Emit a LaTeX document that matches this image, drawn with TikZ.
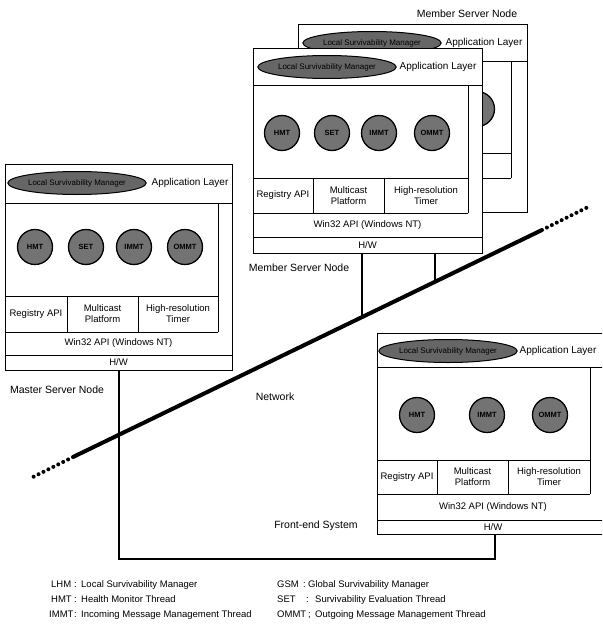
\documentclass[tikz,border=0pt]{standalone}
\usepackage{fontspec}
\setmainfont{Liberation Sans}
\usetikzlibrary{shapes.geometric}
\begin{document}
\begin{tikzpicture}[x=1pt,y=-1pt,
  box/.style={draw=black,line width=1pt},
  lbl/.style={font=\fontsize{10.5}{12}\selectfont, inner sep=0pt},
  app/.style={font=\fontsize{10}{12}\selectfont, inner sep=0pt},
  leg/.style={font=\fontsize{9.5}{11}\selectfont, inner sep=0pt, anchor=base west},
  cell/.style={font=\fontsize{9.5}{11}\selectfont, align=center, inner sep=0pt},
  thr/.style={circle, draw=black, line width=1.3pt, fill=black!55, minimum size=35pt, inner sep=0pt, font=\fontsize{7.5}{8}\selectfont\bfseries},
  mgr/.style={ellipse, draw=black, line width=1pt, fill=black!60, minimum width=138pt, minimum height=23pt, inner sep=0pt, font=\fontsize{8}{9}\selectfont},
  bus/.style={line width=2.8pt},
  net/.style={line width=4pt},
  netdot/.style={line width=4pt, dash pattern=on 0pt off 5.5pt, line cap=round}]
\useasboundingbox (0,0) rectangle (602,634);
\clip (0,0) rectangle (602,634);

% ---------- back member server node ----------
\draw[box, fill=white] (298,25) rectangle (527,212);
\draw[box] (298,62) -- (527,62);
\draw[box] (511,62) -- (511,178);
\draw[box] (298,153) -- (511,153);
\draw[box] (298,178) -- (511,178);
\node[mgr] (bmgr) at (372,43) {Local Survivability Manager};
\node[app] (bapp) at (484,43) {Application Layer};
\node[thr] (bt1) at (327,109) {};
\node[thr] (bt2) at (377,109) {};
\node[thr] (bt3) at (423,109) {};
\node[thr] (bt4) at (477,109) {};
\node[lbl] (bname) at (467,14) {Member Server Node};

% ---------- front member server node ----------
\draw[box, fill=white] (253,49) rectangle (482,253);
\draw[box] (253,85) -- (482,85);
\draw[box] (468,85) -- (468,213);
\draw[box] (253,178) -- (468,178);
\draw[box] (253,213) -- (468,213);
\draw[box] (253,237) -- (482,237);
\draw[box] (313,178) -- (313,213);
\draw[box] (384,178) -- (384,213);
\node[mgr] (mmgr) at (327,67) {Local Survivability Manager};
\node[app] (mapp) at (438,67) {Application Layer};
\node[thr] (mt1) at (282,133) {HMT};
\node[thr] (mt2) at (332,133) {SET};
\node[thr] (mt3) at (379,133) {IMMT};
\node[thr] (mt4) at (432,133) {OMMT};
\node[cell] (mreg) at (283,195.5) {Registry API};
\node[cell] (mmc) at (348.5,195.5) {Multicast\\Platform};
\node[cell] (mtim) at (426,195.5) {High-resolution\\Timer};
\node[cell] (mw32) at (367.5,225) {Win32 API (Windows NT)};
\node[cell] (mhw) at (367.5,245) {H/W};
\node[lbl] (mname) at (299,268) {Member Server Node};

% ---------- master server node ----------
\draw[box, fill=white] (5,164) rectangle (232,370);
\draw[box] (5,203) -- (232,203);
\draw[box] (218,203) -- (218,332);
\draw[box] (5,296) -- (218,296);
\draw[box] (5,332) -- (218,332);
\draw[box] (5,355) -- (232,355);
\draw[box] (67,296) -- (67,332);
\draw[box] (138,296) -- (138,332);
\node[mgr] (smgr) at (77,183) {Local Survivability Manager};
\node[app] (sapp) at (190,183) {Application Layer};
\node[thr] (st1) at (35,247) {HMT};
\node[thr] (st2) at (86,247) {SET};
\node[thr] (st3) at (134,247) {IMMT};
\node[thr] (st4) at (185,247) {OMMT};
\node[cell] (sreg) at (36,314) {Registry API};
\node[cell] (smc) at (102.5,314) {Multicast\\Platform};
\node[cell] (stim) at (178,314) {High-resolution\\Timer};
\node[cell] (sw32) at (118.5,343.5) {Win32 API (Windows NT)};
\node[cell] (shw) at (118.5,362.5) {H/W};
\node[lbl] (sname) at (57,390) {Master Server Node};

% ---------- front-end system ----------
\draw[box, fill=white] (377,333) rectangle (610,534);
\draw[box] (377,367) -- (610,367);
\draw[box] (590,367) -- (590,494);
\draw[box] (377,460) -- (590,460);
\draw[box] (377,494) -- (590,494);
\draw[box] (377,520) -- (610,520);
\draw[box] (437,460) -- (437,494);
\draw[box] (508,460) -- (508,494);
\node[mgr] (fmgr) at (448,351) {Local Survivability Manager};
\node[app] (fapp) at (558,351) {Application Layer};
\node[thr] (ft1) at (417,415) {HMT};
\node[thr] (ft2) at (487,415) {IMMT};
\node[thr] (ft3) at (550,415) {OMMT};
\node[cell] (freg) at (407,477) {Registry API};
\node[cell] (fmc) at (472.5,477) {Multicast\\Platform};
\node[cell] (ftim) at (549,477) {High-resolution\\Timer};
\node[cell] (fw32) at (493,507) {Win32 API (Windows NT)};
\node[cell] (fhw) at (493,527) {H/W};
\node[lbl] (fname) at (316,526) {Front-end System};

% ---------- network ----------
\coordinate (dotA) at (33,477);
\coordinate (netA) at (73,457);
\coordinate (netB) at (542,230);
\coordinate (dotB) at (588,207);
\draw[net] (netA) -- (netB);
\draw[netdot] (netA) -- (dotA);
\draw[netdot] (netB) -- (dotB);
\node[lbl] (netlbl) at (275,397) {Network};

% ---------- connectors ----------
\coordinate (memHWb) at (362,253);
\coordinate (memNet) at (362,318);
\coordinate (bakHWb) at (435,253);
\coordinate (bakNet) at (435,283);
\draw[bus] (memHWb) -- (memNet);
\draw[bus] (bakHWb) -- (bakNet);
\coordinate (masHWb) at (119,370);
\coordinate (busL) at (119,559);
\coordinate (busR) at (495,559);
\coordinate (feHWb) at (495,534);
\draw[bus] (masHWb) -- (busL) -- (busR) -- (feHWb);

% ---------- legend ----------
\node[leg] (l1a) at (51,587) {LHM};
\node[leg] (l1c) at (74,587) {:};
\node[leg] (l1t) at (81,587) {Local Survivability Manager};
\node[leg] (l2a) at (51,602) {HMT};
\node[leg] (l2c) at (74,602) {:};
\node[leg] (l2t) at (81,602) {Health Monitor Thread};
\node[leg] (l3a) at (49,617) {IMMT};
\node[leg] (l3c) at (74,617) {:};
\node[leg] (l3t) at (81,617) {Incoming Message Management Thread};
\node[leg] (r1a) at (277,587) {GSM};
\node[leg] (r1c) at (303,587) {:};
\node[leg] (r1t) at (308,587) {Global Survivability Manager};
\node[leg] (r2a) at (277,602) {SET};
\node[leg] (r2c) at (306,602) {:};
\node[leg] (r2t) at (315,602) {Survivability Evaluation Thread};
\node[leg] (r3a) at (277,617) {OMMT};
\node[leg] (r3c) at (308,617) {;};
\node[leg] (r3t) at (315,617) {Outgoing Message Management Thread};
\end{tikzpicture}
\end{document}
